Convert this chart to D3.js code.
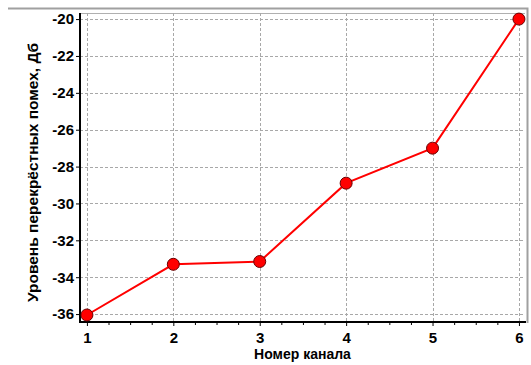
<!DOCTYPE html>
<html>
<head>
<meta charset="utf-8">
<script src="https://cdn.jsdelivr.net/npm/d3@7/dist/d3.min.js"></script>
<style>
  html, body { margin: 0; padding: 0; background: #fff; }
  svg { display: block; font-family: "Liberation Sans", Arial, sans-serif; }
</style>
</head>
<body>
<svg id="chart" width="531" height="365"></svg>
<script>
// Crosstalk level per channel
const channels = [1, 2, 3, 4, 5, 6];
const crosstalk = [-36.05, -33.3, -33.15, -28.9, -27.0, -20.0];
const yTicks = [-36, -34, -32, -30, -28, -26, -24, -22, -20];
const xLabel = "Номер канала";
const yLabel = "Уровень перекрёстных помех, Дб";

const svg = d3.select("#chart");
const plot = { left: 80, right: 525, top: 13, bottom: 322 };

const x = d3.scaleLinear().domain([0.92, 6.07]).range([plot.left, plot.right]);
const y = d3.scaleLinear().domain([-36.43, -19.67]).range([plot.bottom, plot.top]);

// plain hyphen-minus for negative numbers
const fmt = d => String(d);

// outer panel edge (top and right)
svg.append("path")
  .attr("d", `M8,8.5 H527.5 V323`)
  .attr("fill", "none").attr("stroke", "#a0a0a0").attr("stroke-width", 2);

// plot area top border
svg.append("line")
  .attr("x1", plot.left).attr("x2", plot.right)
  .attr("y1", plot.top + 0.5).attr("y2", plot.top + 0.5)
  .attr("stroke", "#b0b0b0").attr("stroke-width", 1);

// grid
const grid = svg.append("g").attr("stroke", "#a8a8a8").attr("stroke-width", 1)
  .attr("stroke-dasharray", "3,2");
grid.selectAll("line.h").data(yTicks).join("line")
  .attr("x1", plot.left).attr("x2", plot.right)
  .attr("y1", d => Math.round(y(d)) + 0.5).attr("y2", d => Math.round(y(d)) + 0.5);
grid.selectAll("line.v").data(channels).join("line")
  .attr("y1", plot.top).attr("y2", plot.bottom)
  .attr("x1", d => Math.round(x(d)) + 0.5).attr("x2", d => Math.round(x(d)) + 0.5);

// x axis with quarter minor ticks
const minor = d3.range(1, 6.01, 0.25).filter(v => Math.abs(v - Math.round(v)) > 1e-6);
const xAxisG = svg.append("g").attr("transform", `translate(0,${plot.bottom})`);
xAxisG.call(d3.axisBottom(x).tickValues(minor).tickSize(3).tickFormat(""))
  .call(g => g.select(".domain").remove())
  .call(g => g.selectAll("line").attr("stroke", "#000"));
xAxisG.append("g")
  .call(d3.axisBottom(x).tickValues(channels).tickSize(4).tickPadding(6).tickFormat(fmt))
  .call(g => g.select(".domain").remove())
  .call(g => g.selectAll("line").attr("stroke", "#000"))
  .call(g => g.selectAll("text").attr("fill", "#000")
    .attr("font-family", "Liberation Sans, Arial, sans-serif")
    .attr("font-size", 15).attr("font-weight", "bold"));

// y axis
svg.append("g").attr("transform", `translate(${plot.left},0)`)
  .call(d3.axisLeft(y).tickValues(yTicks).tickSize(4).tickPadding(2).tickFormat(fmt))
  .call(g => g.select(".domain").remove())
  .call(g => g.selectAll("line").attr("stroke", "#000"))
  .call(g => g.selectAll("text").attr("fill", "#000")
    .attr("font-family", "Liberation Sans, Arial, sans-serif")
    .attr("font-size", 15).attr("font-weight", "bold"));

// axis lines
svg.append("line").attr("x1", plot.left).attr("x2", plot.left)
  .attr("y1", plot.top).attr("y2", plot.bottom + 1)
  .attr("stroke", "#000").attr("stroke-width", 2);
svg.append("line").attr("x1", plot.left - 1).attr("x2", plot.right + 1)
  .attr("y1", plot.bottom).attr("y2", plot.bottom)
  .attr("stroke", "#000").attr("stroke-width", 2);

// series
const pts = channels.map((c, i) => [c, crosstalk[i]]);
svg.append("path").datum(pts)
  .attr("d", d3.line().x(d => x(d[0])).y(d => y(d[1])))
  .attr("fill", "none").attr("stroke", "#ff0000").attr("stroke-width", 2);
svg.append("g").selectAll("circle").data(pts).join("circle")
  .attr("cx", d => x(d[0])).attr("cy", d => y(d[1])).attr("r", 6)
  .attr("fill", "#ff0000").attr("stroke", "#6a0000").attr("stroke-width", 1);

// axis titles
svg.append("text")
  .attr("x", (plot.left + plot.right) / 2).attr("y", 359)
  .attr("text-anchor", "middle").attr("font-size", 14).attr("font-weight", "bold")
  .attr("fill", "#000").text(xLabel);
svg.append("text")
  .attr("transform", `translate(38,${(plot.top + plot.bottom) / 2 + 5}) rotate(-90)`)
  .attr("text-anchor", "middle").attr("font-size", 15.5).attr("font-weight", "bold")
  .attr("fill", "#000").text(yLabel);
</script>
</body>
</html>
